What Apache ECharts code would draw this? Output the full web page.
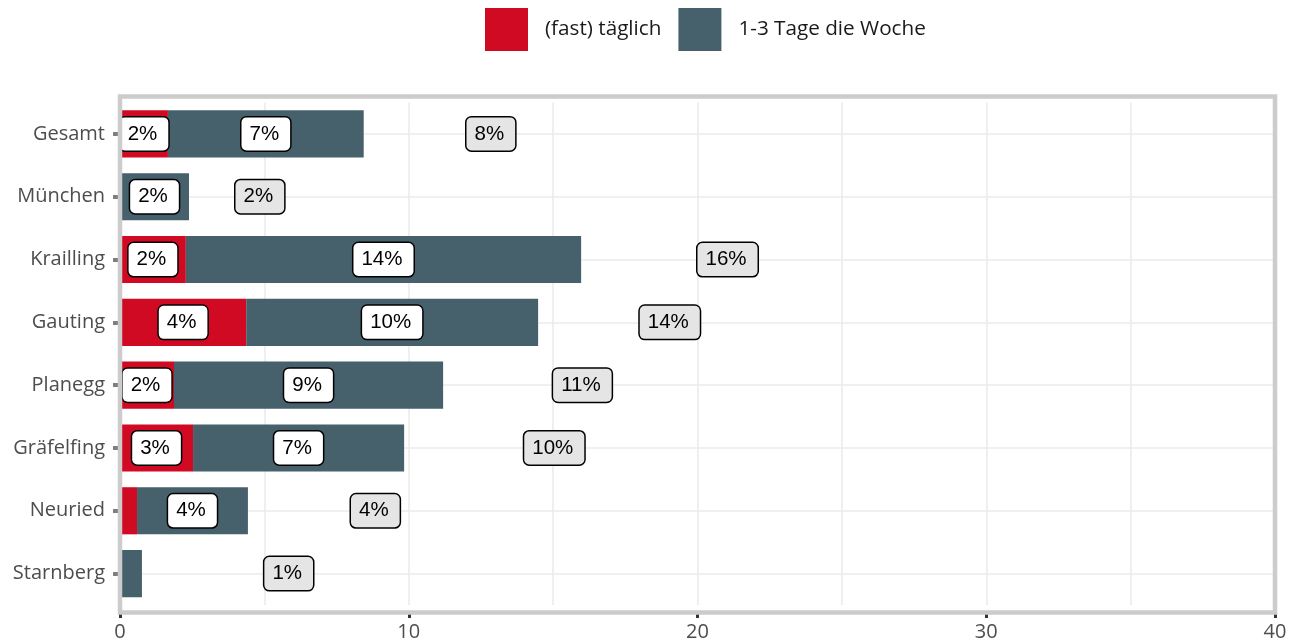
<!DOCTYPE html>
<html>
<head>
<meta charset="utf-8">
<title>Nutzungshäufigkeit nach Ort</title>
<script src="https://cdn.jsdelivr.net/npm/echarts@6/dist/echarts.min.js"></script>
<style>
  html, body { margin: 0; padding: 0; background: #ffffff; }
  #chart { width: 1290px; height: 642px; }
</style>
</head>
<body>
<div id="chart"></div>
<script>
// Locations, top to bottom
const categories = ['Gesamt', 'München', 'Krailling', 'Gauting', 'Planegg', 'Gräfelfing', 'Neuried', 'Starnberg'];
// Share in percent: (fast) täglich
const daily = [1.66, 0, 2.28, 4.37, 1.87, 2.53, 0.59, 0];
// Share in percent: 1-3 Tage die Woche
const weekly = [6.78, 2.39, 13.69, 10.11, 9.32, 7.31, 3.84, 0.76];
// Where each total label starts on the value axis
const totalLabelAt = [12, 4, 20, 18, 15, 14, 8, 5];
// Value axis range and tick step
const xMin = 0, xMax = 40, xStep = 10;

const seriesNames = ['(fast) täglich', '1-3 Tage die Woche'];
const colors = ['#CF0A22', '#46606C'];

const totals = daily.map((d, i) => d + weekly[i]);
const pct = v => Math.round(v) + '%';

// Layout of the plotting panel
const panel = { left: 120, right: 1275, top: 96.5, bottom: 612.5 };
const grid = { left: 120, right: 15, top: 102.5, bottom: 35.5 };

const boxStyle = {
  fontFamily: 'Liberation Sans, Arial, sans-serif',
  fontSize: 20.5,
  lineHeight: 21,
  color: '#000000',
  borderColor: '#000000',
  borderWidth: 1.5,
  borderRadius: 5,
  padding: [6, 11, 6, 8]
};

const segLabel = Object.assign({
  position: 'inside',
  formatter: p => pct(p.value),
  backgroundColor: '#ffffff'
}, boxStyle);

const segData = arr => arr.map(v => ({ value: v, label: { show: v >= 1 } }));

const chart = echarts.init(document.getElementById('chart'), null, { renderer: 'canvas' });

chart.setOption({
  animation: false,
  backgroundColor: '#ffffff',
  legend: {
    data: seriesNames,
    left: 485,
    top: 8,
    padding: 0,
    itemWidth: 43,
    itemHeight: 43,
    itemGap: 17,
    icon: 'rect',
    selectedMode: false,
    textStyle: {
      fontFamily: 'Open Sans, sans-serif',
      fontSize: 20.7,
      color: '#1a1a1a',
      padding: [0, 0, 2, 12]
    }
  },
  grid: grid,
  xAxis: {
    type: 'value',
    min: xMin,
    max: xMax,
    interval: xStep,
    offset: panel.bottom - (642 - grid.bottom),
    axisLine: { show: false },
    axisTick: { show: true, length: 7, lineStyle: { color: '#333333', width: 3 } },
    axisLabel: {
      fontFamily: 'Open Sans, sans-serif',
      fontSize: 20,
      color: '#4d4d4d',
      margin: 11
    },
    splitLine: { show: true, lineStyle: { color: '#ebebeb', width: 1.6 } },
    minorTick: { show: false, splitNumber: 2 },
    minorSplitLine: { show: true, lineStyle: { color: '#ebebeb', width: 1.6 } }
  },
  yAxis: {
    type: 'category',
    data: categories,
    inverse: true,
    axisLine: { show: false },
    axisTick: { show: true, alignWithLabel: true, length: 7, lineStyle: { color: '#7f7f7f', width: 4 } },
    axisLabel: {
      fontFamily: 'Open Sans, sans-serif',
      fontSize: 20,
      color: '#4d4d4d',
      margin: 15
    },
    splitLine: { show: false }
  },
  series: [
    {
      // horizontal grid lines through each location
      type: 'scatter',
      data: [],
      silent: true,
      z: 1,
      markLine: {
        silent: true,
        z: 1,
        symbol: ['none', 'none'],
        label: { show: false },
        lineStyle: { type: 'solid', color: '#ebebeb', width: 1.6 },
        data: categories.map(c => ({ yAxis: c }))
      }
    },
    {
      name: seriesNames[0],
      type: 'bar',
      stack: 'total',
      barWidth: '75%',
      z: 2,
      itemStyle: { color: colors[0] },
      label: segLabel,
      data: segData(daily)
    },
    {
      name: seriesNames[1],
      type: 'bar',
      stack: 'total',
      barWidth: '75%',
      z: 2,
      itemStyle: { color: colors[1] },
      label: segLabel,
      data: segData(weekly)
    },
    {
      // total share per location
      type: 'scatter',
      symbolSize: 0,
      silent: true,
      z: 3,
      itemStyle: { opacity: 1 },
      label: Object.assign({
        show: true,
        position: 'right',
        distance: 0,
        formatter: p => pct(totals[p.dataIndex]),
        backgroundColor: '#e5e5e5'
      }, boxStyle),
      data: categories.map((c, i) => [totalLabelAt[i], c])
    }
  ],
  graphic: [
    {
      type: 'rect',
      silent: true,
      z: 100,
      shape: {
        x: panel.left,
        y: panel.top,
        width: panel.right - panel.left,
        height: panel.bottom - panel.top
      },
      style: { fill: 'none', stroke: '#cccccc', lineWidth: 4.5 }
    }
  ]
});
</script>
</body>
</html>
